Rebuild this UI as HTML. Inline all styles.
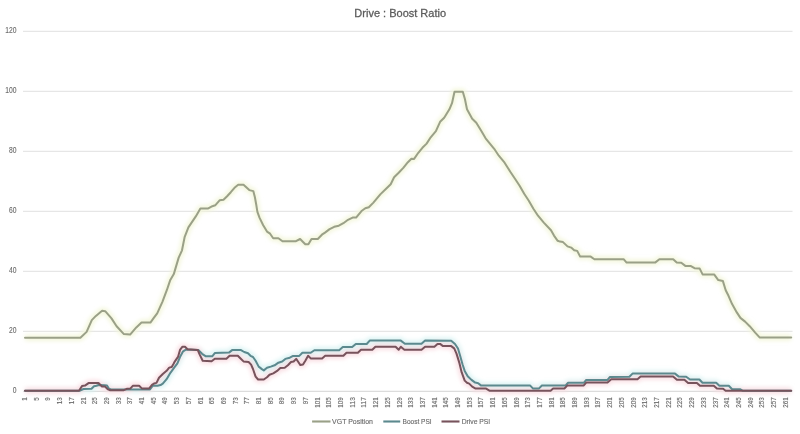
<!DOCTYPE html>
<html><head><meta charset="utf-8"><title>Drive : Boost Ratio</title>
<style>
html,body{margin:0;padding:0;background:#fff;width:800px;height:434px;overflow:hidden}
svg{display:block;filter:blur(0.4px)}
text{font-family:"Liberation Sans",Arial,sans-serif;fill:#6b6b6b}
.yl{font-size:8.4px;stroke:#6b6b6b;stroke-width:0.12px}
.xl{font-size:7.8px;stroke:#6b6b6b;stroke-width:0.15px}
.tt{font-size:11.5px;fill:#5c5c5c;stroke:#5c5c5c;stroke-width:0.3px}
.lg{font-size:8px;stroke:#6b6b6b;stroke-width:0.15px}
</style></head><body>
<svg width="800" height="434" viewBox="0 0 800 434">
<defs><filter id="hb" x="-5%" y="-5%" width="110%" height="110%"><feGaussianBlur stdDeviation="2"/></filter></defs>
<rect width="800" height="434" fill="#fff"/>
<line x1="23" y1="331.4" x2="792.5" y2="331.4" stroke="#e6e6e6" stroke-width="1.2"/>
<line x1="23" y1="271.4" x2="792.5" y2="271.4" stroke="#e6e6e6" stroke-width="1.2"/>
<line x1="23" y1="211.4" x2="792.5" y2="211.4" stroke="#e6e6e6" stroke-width="1.2"/>
<line x1="23" y1="151.4" x2="792.5" y2="151.4" stroke="#e6e6e6" stroke-width="1.2"/>
<line x1="23" y1="91.4" x2="792.5" y2="91.4" stroke="#e6e6e6" stroke-width="1.2"/>
<line x1="23" y1="31.4" x2="792.5" y2="31.4" stroke="#e6e6e6" stroke-width="1.2"/>
<line x1="23" y1="391.3" x2="792.5" y2="391.3" stroke="#dcdcdc" stroke-width="1.3"/>
<text x="16.4" y="393.1" text-anchor="end" class="yl" textLength="3.75" lengthAdjust="spacingAndGlyphs">0</text>
<text x="16.4" y="333.1" text-anchor="end" class="yl" textLength="7.50" lengthAdjust="spacingAndGlyphs">20</text>
<text x="16.4" y="273.1" text-anchor="end" class="yl" textLength="7.50" lengthAdjust="spacingAndGlyphs">40</text>
<text x="16.4" y="213.1" text-anchor="end" class="yl" textLength="7.50" lengthAdjust="spacingAndGlyphs">60</text>
<text x="16.4" y="153.1" text-anchor="end" class="yl" textLength="7.50" lengthAdjust="spacingAndGlyphs">80</text>
<text x="16.4" y="93.1" text-anchor="end" class="yl" textLength="11.25" lengthAdjust="spacingAndGlyphs">100</text>
<text x="16.4" y="33.1" text-anchor="end" class="yl" textLength="11.25" lengthAdjust="spacingAndGlyphs">120</text>
<text transform="translate(27.01,397.2) rotate(-90)" text-anchor="end" class="xl" textLength="3.5" lengthAdjust="spacingAndGlyphs">1</text>
<text transform="translate(38.72,397.2) rotate(-90)" text-anchor="end" class="xl" textLength="3.5" lengthAdjust="spacingAndGlyphs">5</text>
<text transform="translate(50.42,397.2) rotate(-90)" text-anchor="end" class="xl" textLength="3.5" lengthAdjust="spacingAndGlyphs">9</text>
<text transform="translate(62.12,397.2) rotate(-90)" text-anchor="end" class="xl" textLength="7.0" lengthAdjust="spacingAndGlyphs">13</text>
<text transform="translate(73.83,397.2) rotate(-90)" text-anchor="end" class="xl" textLength="7.0" lengthAdjust="spacingAndGlyphs">17</text>
<text transform="translate(85.53,397.2) rotate(-90)" text-anchor="end" class="xl" textLength="7.0" lengthAdjust="spacingAndGlyphs">21</text>
<text transform="translate(97.23,397.2) rotate(-90)" text-anchor="end" class="xl" textLength="7.0" lengthAdjust="spacingAndGlyphs">25</text>
<text transform="translate(108.94,397.2) rotate(-90)" text-anchor="end" class="xl" textLength="7.0" lengthAdjust="spacingAndGlyphs">29</text>
<text transform="translate(120.64,397.2) rotate(-90)" text-anchor="end" class="xl" textLength="7.0" lengthAdjust="spacingAndGlyphs">33</text>
<text transform="translate(132.34,397.2) rotate(-90)" text-anchor="end" class="xl" textLength="7.0" lengthAdjust="spacingAndGlyphs">37</text>
<text transform="translate(144.05,397.2) rotate(-90)" text-anchor="end" class="xl" textLength="7.0" lengthAdjust="spacingAndGlyphs">41</text>
<text transform="translate(155.75,397.2) rotate(-90)" text-anchor="end" class="xl" textLength="7.0" lengthAdjust="spacingAndGlyphs">45</text>
<text transform="translate(167.45,397.2) rotate(-90)" text-anchor="end" class="xl" textLength="7.0" lengthAdjust="spacingAndGlyphs">49</text>
<text transform="translate(179.16,397.2) rotate(-90)" text-anchor="end" class="xl" textLength="7.0" lengthAdjust="spacingAndGlyphs">53</text>
<text transform="translate(190.86,397.2) rotate(-90)" text-anchor="end" class="xl" textLength="7.0" lengthAdjust="spacingAndGlyphs">57</text>
<text transform="translate(202.56,397.2) rotate(-90)" text-anchor="end" class="xl" textLength="7.0" lengthAdjust="spacingAndGlyphs">61</text>
<text transform="translate(214.27,397.2) rotate(-90)" text-anchor="end" class="xl" textLength="7.0" lengthAdjust="spacingAndGlyphs">65</text>
<text transform="translate(225.97,397.2) rotate(-90)" text-anchor="end" class="xl" textLength="7.0" lengthAdjust="spacingAndGlyphs">69</text>
<text transform="translate(237.67,397.2) rotate(-90)" text-anchor="end" class="xl" textLength="7.0" lengthAdjust="spacingAndGlyphs">73</text>
<text transform="translate(249.38,397.2) rotate(-90)" text-anchor="end" class="xl" textLength="7.0" lengthAdjust="spacingAndGlyphs">77</text>
<text transform="translate(261.08,397.2) rotate(-90)" text-anchor="end" class="xl" textLength="7.0" lengthAdjust="spacingAndGlyphs">81</text>
<text transform="translate(272.78,397.2) rotate(-90)" text-anchor="end" class="xl" textLength="7.0" lengthAdjust="spacingAndGlyphs">85</text>
<text transform="translate(284.49,397.2) rotate(-90)" text-anchor="end" class="xl" textLength="7.0" lengthAdjust="spacingAndGlyphs">89</text>
<text transform="translate(296.19,397.2) rotate(-90)" text-anchor="end" class="xl" textLength="7.0" lengthAdjust="spacingAndGlyphs">93</text>
<text transform="translate(307.90,397.2) rotate(-90)" text-anchor="end" class="xl" textLength="7.0" lengthAdjust="spacingAndGlyphs">97</text>
<text transform="translate(319.60,397.2) rotate(-90)" text-anchor="end" class="xl" textLength="10.5" lengthAdjust="spacingAndGlyphs">101</text>
<text transform="translate(331.30,397.2) rotate(-90)" text-anchor="end" class="xl" textLength="10.5" lengthAdjust="spacingAndGlyphs">105</text>
<text transform="translate(343.01,397.2) rotate(-90)" text-anchor="end" class="xl" textLength="10.5" lengthAdjust="spacingAndGlyphs">109</text>
<text transform="translate(354.71,397.2) rotate(-90)" text-anchor="end" class="xl" textLength="10.5" lengthAdjust="spacingAndGlyphs">113</text>
<text transform="translate(366.41,397.2) rotate(-90)" text-anchor="end" class="xl" textLength="10.5" lengthAdjust="spacingAndGlyphs">117</text>
<text transform="translate(378.12,397.2) rotate(-90)" text-anchor="end" class="xl" textLength="10.5" lengthAdjust="spacingAndGlyphs">121</text>
<text transform="translate(389.82,397.2) rotate(-90)" text-anchor="end" class="xl" textLength="10.5" lengthAdjust="spacingAndGlyphs">125</text>
<text transform="translate(401.52,397.2) rotate(-90)" text-anchor="end" class="xl" textLength="10.5" lengthAdjust="spacingAndGlyphs">129</text>
<text transform="translate(413.23,397.2) rotate(-90)" text-anchor="end" class="xl" textLength="10.5" lengthAdjust="spacingAndGlyphs">133</text>
<text transform="translate(424.93,397.2) rotate(-90)" text-anchor="end" class="xl" textLength="10.5" lengthAdjust="spacingAndGlyphs">137</text>
<text transform="translate(436.63,397.2) rotate(-90)" text-anchor="end" class="xl" textLength="10.5" lengthAdjust="spacingAndGlyphs">141</text>
<text transform="translate(448.34,397.2) rotate(-90)" text-anchor="end" class="xl" textLength="10.5" lengthAdjust="spacingAndGlyphs">145</text>
<text transform="translate(460.04,397.2) rotate(-90)" text-anchor="end" class="xl" textLength="10.5" lengthAdjust="spacingAndGlyphs">149</text>
<text transform="translate(471.74,397.2) rotate(-90)" text-anchor="end" class="xl" textLength="10.5" lengthAdjust="spacingAndGlyphs">153</text>
<text transform="translate(483.45,397.2) rotate(-90)" text-anchor="end" class="xl" textLength="10.5" lengthAdjust="spacingAndGlyphs">157</text>
<text transform="translate(495.15,397.2) rotate(-90)" text-anchor="end" class="xl" textLength="10.5" lengthAdjust="spacingAndGlyphs">161</text>
<text transform="translate(506.85,397.2) rotate(-90)" text-anchor="end" class="xl" textLength="10.5" lengthAdjust="spacingAndGlyphs">165</text>
<text transform="translate(518.56,397.2) rotate(-90)" text-anchor="end" class="xl" textLength="10.5" lengthAdjust="spacingAndGlyphs">169</text>
<text transform="translate(530.26,397.2) rotate(-90)" text-anchor="end" class="xl" textLength="10.5" lengthAdjust="spacingAndGlyphs">173</text>
<text transform="translate(541.96,397.2) rotate(-90)" text-anchor="end" class="xl" textLength="10.5" lengthAdjust="spacingAndGlyphs">177</text>
<text transform="translate(553.67,397.2) rotate(-90)" text-anchor="end" class="xl" textLength="10.5" lengthAdjust="spacingAndGlyphs">181</text>
<text transform="translate(565.37,397.2) rotate(-90)" text-anchor="end" class="xl" textLength="10.5" lengthAdjust="spacingAndGlyphs">185</text>
<text transform="translate(577.07,397.2) rotate(-90)" text-anchor="end" class="xl" textLength="10.5" lengthAdjust="spacingAndGlyphs">189</text>
<text transform="translate(588.78,397.2) rotate(-90)" text-anchor="end" class="xl" textLength="10.5" lengthAdjust="spacingAndGlyphs">193</text>
<text transform="translate(600.48,397.2) rotate(-90)" text-anchor="end" class="xl" textLength="10.5" lengthAdjust="spacingAndGlyphs">197</text>
<text transform="translate(612.18,397.2) rotate(-90)" text-anchor="end" class="xl" textLength="10.5" lengthAdjust="spacingAndGlyphs">201</text>
<text transform="translate(623.89,397.2) rotate(-90)" text-anchor="end" class="xl" textLength="10.5" lengthAdjust="spacingAndGlyphs">205</text>
<text transform="translate(635.59,397.2) rotate(-90)" text-anchor="end" class="xl" textLength="10.5" lengthAdjust="spacingAndGlyphs">209</text>
<text transform="translate(647.29,397.2) rotate(-90)" text-anchor="end" class="xl" textLength="10.5" lengthAdjust="spacingAndGlyphs">213</text>
<text transform="translate(659.00,397.2) rotate(-90)" text-anchor="end" class="xl" textLength="10.5" lengthAdjust="spacingAndGlyphs">217</text>
<text transform="translate(670.70,397.2) rotate(-90)" text-anchor="end" class="xl" textLength="10.5" lengthAdjust="spacingAndGlyphs">221</text>
<text transform="translate(682.40,397.2) rotate(-90)" text-anchor="end" class="xl" textLength="10.5" lengthAdjust="spacingAndGlyphs">225</text>
<text transform="translate(694.11,397.2) rotate(-90)" text-anchor="end" class="xl" textLength="10.5" lengthAdjust="spacingAndGlyphs">229</text>
<text transform="translate(705.81,397.2) rotate(-90)" text-anchor="end" class="xl" textLength="10.5" lengthAdjust="spacingAndGlyphs">233</text>
<text transform="translate(717.51,397.2) rotate(-90)" text-anchor="end" class="xl" textLength="10.5" lengthAdjust="spacingAndGlyphs">237</text>
<text transform="translate(729.22,397.2) rotate(-90)" text-anchor="end" class="xl" textLength="10.5" lengthAdjust="spacingAndGlyphs">241</text>
<text transform="translate(740.92,397.2) rotate(-90)" text-anchor="end" class="xl" textLength="10.5" lengthAdjust="spacingAndGlyphs">245</text>
<text transform="translate(752.63,397.2) rotate(-90)" text-anchor="end" class="xl" textLength="10.5" lengthAdjust="spacingAndGlyphs">249</text>
<text transform="translate(764.33,397.2) rotate(-90)" text-anchor="end" class="xl" textLength="10.5" lengthAdjust="spacingAndGlyphs">253</text>
<text transform="translate(776.03,397.2) rotate(-90)" text-anchor="end" class="xl" textLength="10.5" lengthAdjust="spacingAndGlyphs">257</text>
<text transform="translate(787.74,397.2) rotate(-90)" text-anchor="end" class="xl" textLength="10.5" lengthAdjust="spacingAndGlyphs">261</text>
<g filter="url(#hb)">
<polyline points="25.0,337.8 80.4,337.8 86.6,331.9 91.8,320.1 95.9,315.9 102.1,310.8 105.2,311.2 111.5,318.4 116.6,326.2 123.9,334.1 130.1,334.6 136.3,327.4 141.5,322.6 150.4,322.6 153.8,317.9 157.2,313.4 162.4,301.8 166.8,290.2 170.3,279.9 173.8,274.1 178.6,257.9 182.0,250.3 184.7,236.8 188.4,227.4 192.1,221.9 195.8,216.4 200.4,208.6 207.8,208.6 212.4,206.2 215.2,205.3 219.8,200.2 223.5,199.8 227.1,196.2 230.8,192.2 234.5,187.8 238.2,184.8 243.5,184.8 249.3,190.1 253.3,191.1 254.9,197.3 256.3,205.0 257.4,211.8 259.6,217.9 263.2,225.3 267.0,231.6 270.1,233.7 273.2,238.2 278.4,238.2 282.5,241.2 296.0,241.2 300.1,239.0 303.3,242.2 305.3,244.3 308.4,244.3 311.5,239.0 317.8,239.0 321.9,234.7 325.0,232.6 329.6,229.1 334.2,226.8 338.8,225.7 343.4,223.2 348.0,219.8 352.6,217.6 356.1,217.6 361.9,210.7 365.3,208.3 368.8,207.2 373.4,202.6 380.3,194.4 386.1,188.8 390.7,184.2 394.1,177.2 398.7,172.7 403.3,167.9 407.9,162.2 411.4,158.8 414.1,158.9 418.3,152.8 422.4,147.8 426.6,143.6 430.7,137.3 435.9,131.2 440.1,121.8 444.2,117.7 449.4,109.3 452.0,103.2 454.5,91.8 462.8,91.8 464.9,99.0 467.0,109.3 472.2,118.7 476.3,122.8 481.5,131.2 485.6,138.3 494.2,148.8 498.8,155.7 504.6,162.7 510.3,171.8 515.0,178.8 519.6,185.7 524.2,193.8 528.8,200.7 533.4,208.7 538.0,215.7 543.8,222.6 551.0,230.3 554.0,235.6 557.7,240.8 560.0,241.6 563.0,242.1 567.5,246.4 571.2,247.6 574.2,250.2 577.2,250.9 580.2,256.6 590.7,256.6 594.4,259.2 623.6,259.2 626.6,262.6 655.4,262.4 659.4,259.2 673.2,259.2 676.7,262.4 681.3,262.8 685.3,265.9 690.5,265.9 694.5,268.2 699.7,268.6 702.6,274.4 714.1,274.4 718.3,280.1 722.9,281.1 725.7,290.2 728.5,295.8 732.1,304.1 736.8,312.4 740.4,317.9 745.1,321.6 749.7,326.2 755.2,332.6 759.8,337.6 791.2,337.6" fill="none" stroke="#f3f6da" stroke-width="6" stroke-linejoin="round"/>
<polyline points="25.0,390.7 80.0,390.7 83.5,389.0 91.5,388.8 94.0,386.2 96.5,385.8 98.5,385.0 104.5,385.2 107.0,385.5 109.0,388.8 111.0,389.5 150.0,389.5 153.0,385.5 157.5,385.7 160.5,385.1 162.8,383.6 166.6,379.2 170.4,372.8 174.2,367.7 177.4,363.3 180.0,357.0 183.1,351.3 186.3,349.4 198.3,350.0 202.1,353.8 205.9,356.3 212.2,356.3 214.8,353.1 229.0,352.6 232.1,350.1 241.0,350.1 244.2,352.0 248.0,353.2 250.5,355.8 253.0,357.0 255.6,360.8 258.7,366.6 261.9,369.1 263.8,370.4 267.0,367.8 270.8,366.6 274.6,365.3 278.4,362.7 282.2,361.5 285.3,358.9 289.8,357.7 293.1,355.9 299.3,355.9 302.4,352.8 310.7,352.8 314.4,350.2 339.2,350.2 342.8,347.1 352.2,347.1 355.8,344.0 366.7,344.0 369.7,340.6 400.8,340.6 404.9,343.8 421.5,343.8 425.1,340.6 451.2,340.7 455.0,344.0 458.0,348.5 460.2,356.0 462.5,364.2 464.7,370.9 467.7,376.2 471.5,379.9 475.2,382.6 478.2,383.2 481.2,385.6 530.0,385.4 533.1,388.6 538.8,388.6 541.9,385.5 565.6,385.5 568.1,382.8 583.8,382.8 586.2,379.9 607.5,379.9 610.0,376.9 629.4,376.8 632.5,373.6 675.0,373.6 678.8,376.6 686.2,376.7 690.0,379.5 699.4,379.5 702.5,382.8 716.2,382.8 719.4,385.8 728.8,385.8 731.9,389.0 740.0,389.2 742.5,390.7 791.2,390.7" fill="none" stroke="#d8f3f3" stroke-width="6" stroke-linejoin="round"/>
<polyline points="25.0,390.7 79.0,390.7 82.0,386.1 85.0,385.6 88.5,383.1 98.5,383.1 102.0,386.4 105.0,386.6 108.0,389.4 110.2,390.2 123.8,390.2 126.8,388.8 130.5,388.4 132.8,385.8 139.1,385.8 141.8,388.4 149.2,388.4 152.0,384.8 154.0,383.5 156.5,382.9 159.0,377.8 162.8,374.0 166.6,370.8 169.2,367.6 171.7,367.0 173.6,363.8 174.9,361.3 178.0,356.9 180.0,349.9 182.5,346.7 185.0,346.7 187.5,349.3 197.7,349.9 199.6,354.4 202.7,360.7 211.6,361.3 214.8,358.8 226.4,358.8 229.6,355.7 237.8,355.7 240.3,358.2 243.5,361.4 248.6,362.0 251.1,364.6 253.0,369.0 255.6,376.6 258.1,379.5 263.8,379.5 267.0,377.2 269.5,374.7 273.3,373.4 277.1,370.9 280.3,368.1 284.7,367.7 287.9,365.2 291.0,362.0 293.6,361.5 296.2,358.9 298.3,362.0 300.4,365.1 303.0,364.6 305.5,360.4 308.1,355.8 310.7,358.4 322.1,358.4 325.2,355.8 343.4,355.8 346.5,352.7 357.9,352.7 361.0,349.7 372.3,349.8 375.4,346.7 395.6,346.7 398.7,349.8 400.8,346.7 404.4,349.8 421.5,349.8 425.1,346.7 434.4,346.7 437.5,343.9 440.1,343.9 443.0,346.1 451.2,346.1 454.2,348.4 456.5,353.6 459.5,363.4 461.7,372.4 464.7,380.6 467.0,382.8 469.2,383.6 472.2,386.6 475.2,388.4 485.7,388.4 489.4,390.7 550.6,390.7 553.1,388.5 564.4,388.5 567.5,385.4 583.8,385.4 586.2,382.6 607.5,382.6 611.2,379.3 637.5,379.3 640.6,376.6 673.1,376.6 676.9,379.8 684.4,379.8 688.1,382.9 696.9,382.9 700.0,385.7 713.8,385.7 716.9,388.5 723.1,388.8 725.6,390.7 791.2,390.7" fill="none" stroke="#f9dde2" stroke-width="6" stroke-linejoin="round"/>
</g>
<polyline points="25.0,337.8 80.4,337.8 86.6,331.9 91.8,320.1 95.9,315.9 102.1,310.8 105.2,311.2 111.5,318.4 116.6,326.2 123.9,334.1 130.1,334.6 136.3,327.4 141.5,322.6 150.4,322.6 153.8,317.9 157.2,313.4 162.4,301.8 166.8,290.2 170.3,279.9 173.8,274.1 178.6,257.9 182.0,250.3 184.7,236.8 188.4,227.4 192.1,221.9 195.8,216.4 200.4,208.6 207.8,208.6 212.4,206.2 215.2,205.3 219.8,200.2 223.5,199.8 227.1,196.2 230.8,192.2 234.5,187.8 238.2,184.8 243.5,184.8 249.3,190.1 253.3,191.1 254.9,197.3 256.3,205.0 257.4,211.8 259.6,217.9 263.2,225.3 267.0,231.6 270.1,233.7 273.2,238.2 278.4,238.2 282.5,241.2 296.0,241.2 300.1,239.0 303.3,242.2 305.3,244.3 308.4,244.3 311.5,239.0 317.8,239.0 321.9,234.7 325.0,232.6 329.6,229.1 334.2,226.8 338.8,225.7 343.4,223.2 348.0,219.8 352.6,217.6 356.1,217.6 361.9,210.7 365.3,208.3 368.8,207.2 373.4,202.6 380.3,194.4 386.1,188.8 390.7,184.2 394.1,177.2 398.7,172.7 403.3,167.9 407.9,162.2 411.4,158.8 414.1,158.9 418.3,152.8 422.4,147.8 426.6,143.6 430.7,137.3 435.9,131.2 440.1,121.8 444.2,117.7 449.4,109.3 452.0,103.2 454.5,91.8 462.8,91.8 464.9,99.0 467.0,109.3 472.2,118.7 476.3,122.8 481.5,131.2 485.6,138.3 494.2,148.8 498.8,155.7 504.6,162.7 510.3,171.8 515.0,178.8 519.6,185.7 524.2,193.8 528.8,200.7 533.4,208.7 538.0,215.7 543.8,222.6 551.0,230.3 554.0,235.6 557.7,240.8 560.0,241.6 563.0,242.1 567.5,246.4 571.2,247.6 574.2,250.2 577.2,250.9 580.2,256.6 590.7,256.6 594.4,259.2 623.6,259.2 626.6,262.6 655.4,262.4 659.4,259.2 673.2,259.2 676.7,262.4 681.3,262.8 685.3,265.9 690.5,265.9 694.5,268.2 699.7,268.6 702.6,274.4 714.1,274.4 718.3,280.1 722.9,281.1 725.7,290.2 728.5,295.8 732.1,304.1 736.8,312.4 740.4,317.9 745.1,321.6 749.7,326.2 755.2,332.6 759.8,337.6 791.2,337.6" fill="none" stroke="#9aa088" stroke-width="2.0" stroke-linejoin="round" stroke-linecap="round"/>
<polyline points="25.0,390.7 80.0,390.7 83.5,389.0 91.5,388.8 94.0,386.2 96.5,385.8 98.5,385.0 104.5,385.2 107.0,385.5 109.0,388.8 111.0,389.5 150.0,389.5 153.0,385.5 157.5,385.7 160.5,385.1 162.8,383.6 166.6,379.2 170.4,372.8 174.2,367.7 177.4,363.3 180.0,357.0 183.1,351.3 186.3,349.4 198.3,350.0 202.1,353.8 205.9,356.3 212.2,356.3 214.8,353.1 229.0,352.6 232.1,350.1 241.0,350.1 244.2,352.0 248.0,353.2 250.5,355.8 253.0,357.0 255.6,360.8 258.7,366.6 261.9,369.1 263.8,370.4 267.0,367.8 270.8,366.6 274.6,365.3 278.4,362.7 282.2,361.5 285.3,358.9 289.8,357.7 293.1,355.9 299.3,355.9 302.4,352.8 310.7,352.8 314.4,350.2 339.2,350.2 342.8,347.1 352.2,347.1 355.8,344.0 366.7,344.0 369.7,340.6 400.8,340.6 404.9,343.8 421.5,343.8 425.1,340.6 451.2,340.7 455.0,344.0 458.0,348.5 460.2,356.0 462.5,364.2 464.7,370.9 467.7,376.2 471.5,379.9 475.2,382.6 478.2,383.2 481.2,385.6 530.0,385.4 533.1,388.6 538.8,388.6 541.9,385.5 565.6,385.5 568.1,382.8 583.8,382.8 586.2,379.9 607.5,379.9 610.0,376.9 629.4,376.8 632.5,373.6 675.0,373.6 678.8,376.6 686.2,376.7 690.0,379.5 699.4,379.5 702.5,382.8 716.2,382.8 719.4,385.8 728.8,385.8 731.9,389.0 740.0,389.2 742.5,390.7 791.2,390.7" fill="none" stroke="#5c898e" stroke-width="2.0" stroke-linejoin="round" stroke-linecap="round"/>
<polyline points="25.0,390.7 79.0,390.7 82.0,386.1 85.0,385.6 88.5,383.1 98.5,383.1 102.0,386.4 105.0,386.6 108.0,389.4 110.2,390.2 123.8,390.2 126.8,388.8 130.5,388.4 132.8,385.8 139.1,385.8 141.8,388.4 149.2,388.4 152.0,384.8 154.0,383.5 156.5,382.9 159.0,377.8 162.8,374.0 166.6,370.8 169.2,367.6 171.7,367.0 173.6,363.8 174.9,361.3 178.0,356.9 180.0,349.9 182.5,346.7 185.0,346.7 187.5,349.3 197.7,349.9 199.6,354.4 202.7,360.7 211.6,361.3 214.8,358.8 226.4,358.8 229.6,355.7 237.8,355.7 240.3,358.2 243.5,361.4 248.6,362.0 251.1,364.6 253.0,369.0 255.6,376.6 258.1,379.5 263.8,379.5 267.0,377.2 269.5,374.7 273.3,373.4 277.1,370.9 280.3,368.1 284.7,367.7 287.9,365.2 291.0,362.0 293.6,361.5 296.2,358.9 298.3,362.0 300.4,365.1 303.0,364.6 305.5,360.4 308.1,355.8 310.7,358.4 322.1,358.4 325.2,355.8 343.4,355.8 346.5,352.7 357.9,352.7 361.0,349.7 372.3,349.8 375.4,346.7 395.6,346.7 398.7,349.8 400.8,346.7 404.4,349.8 421.5,349.8 425.1,346.7 434.4,346.7 437.5,343.9 440.1,343.9 443.0,346.1 451.2,346.1 454.2,348.4 456.5,353.6 459.5,363.4 461.7,372.4 464.7,380.6 467.0,382.8 469.2,383.6 472.2,386.6 475.2,388.4 485.7,388.4 489.4,390.7 550.6,390.7 553.1,388.5 564.4,388.5 567.5,385.4 583.8,385.4 586.2,382.6 607.5,382.6 611.2,379.3 637.5,379.3 640.6,376.6 673.1,376.6 676.9,379.8 684.4,379.8 688.1,382.9 696.9,382.9 700.0,385.7 713.8,385.7 716.9,388.5 723.1,388.8 725.6,390.7 791.2,390.7" fill="none" stroke="#77535c" stroke-width="2.0" stroke-linejoin="round" stroke-linecap="round"/>
<text x="400.2" y="17.3" text-anchor="middle" class="tt" textLength="91.7" lengthAdjust="spacingAndGlyphs">Drive : Boost Ratio</text>
<line x1="312.1" y1="421.5" x2="330.5" y2="421.5" stroke="#9aa088" stroke-width="2.1"/>
<text x="332.1" y="424.4" class="lg" textLength="40.8" lengthAdjust="spacingAndGlyphs">VGT Position</text>
<line x1="383.3" y1="421.5" x2="400.2" y2="421.5" stroke="#5c898e" stroke-width="2.1"/>
<text x="402.5" y="424.4" class="lg" textLength="29.2" lengthAdjust="spacingAndGlyphs">Boost PSI</text>
<line x1="441.5" y1="421.5" x2="459.5" y2="421.5" stroke="#77535c" stroke-width="2.1"/>
<text x="461.7" y="424.4" class="lg" textLength="28.5" lengthAdjust="spacingAndGlyphs">Drive PSI</text>
</svg>
</body></html>
